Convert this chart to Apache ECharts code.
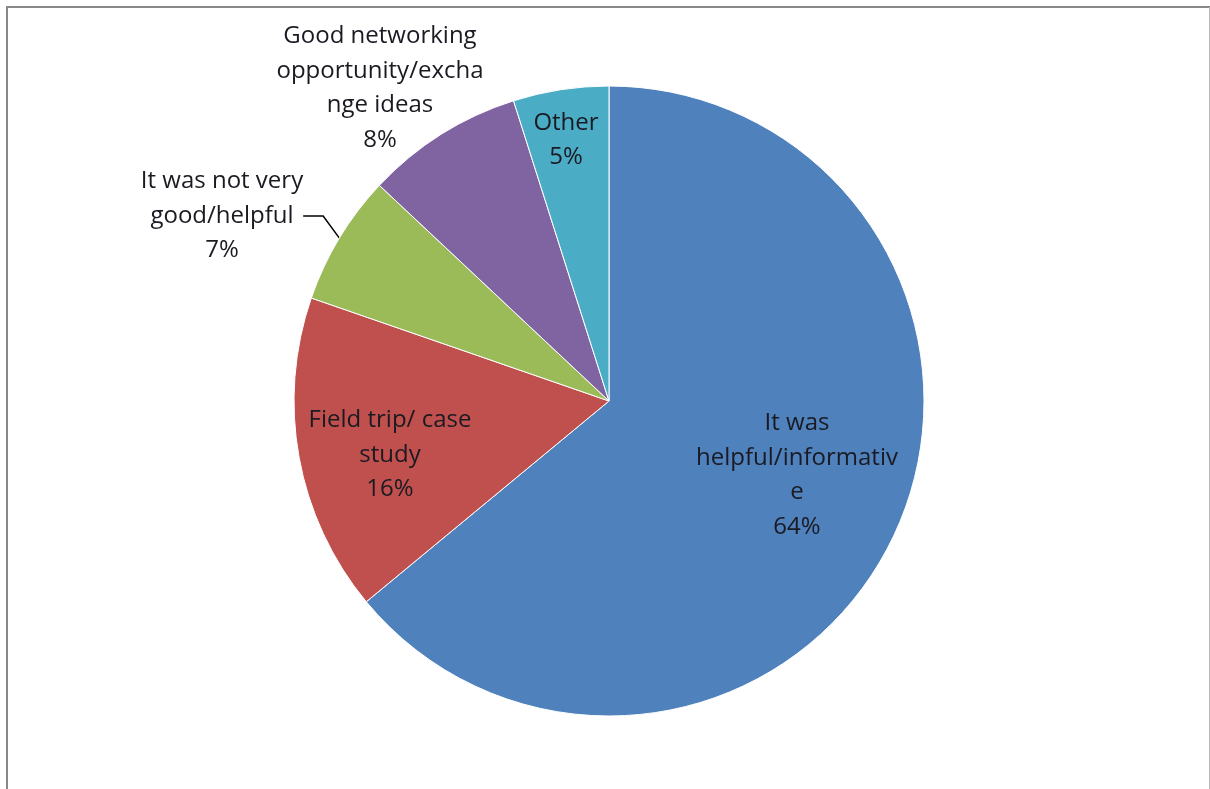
<!DOCTYPE html>
<html>
<head>
<meta charset="utf-8">
<script src="https://cdn.jsdelivr.net/npm/echarts@6/dist/echarts.min.js"></script>
<style>
html,body{margin:0;padding:0;background:#fff;}
#chart{width:1210px;height:789px;}
</style>
</head>
<body>
<div id="chart"></div>
<script>
// Data
const categories = [
  "It was helpful/informative",
  "Field trip/ case study",
  "It was not very good/helpful",
  "Good networking opportunity/exchange ideas",
  "Other"
];
const values = [64, 16.3, 6.7, 8.1, 4.9];
const labelTexts = [
  "It was\nhelpful/informativ\ne",
  "Field trip/ case\nstudy",
  "It was not very\ngood/helpful",
  "Good networking\nopportunity/excha\nnge ideas",
  "Other"
];
const colors = ["#4F81BD", "#C0504D", "#9BBB59", "#8064A2", "#4BACC6"];

const labelPos = [
  {x: 797, y: 475},
  {x: 390, y: 455},
  {x: 222, y: 216},
  {x: 380, y: 88},
  {x: 566, y: 140}
];

const chart = echarts.init(document.getElementById('chart'), null, {renderer: 'canvas'});
chart.setOption({
  backgroundColor: '#fff',
  animation: false,
  graphic: [
    {type: 'line', shape: {x1: 6, y1: 7, x2: 1210, y2: 7}, style: {stroke: '#888', lineWidth: 2}},
    {type: 'line', shape: {x1: 7, y1: 6, x2: 7, y2: 789}, style: {stroke: '#888', lineWidth: 2}},
    {type: 'line', shape: {x1: 1209.5, y1: 7, x2: 1209.5, y2: 789}, style: {stroke: '#bbb', lineWidth: 1}}
  ],
  series: [{
    type: 'pie',
    center: [609, 401],
    radius: 315,
    startAngle: 90,
    clockwise: true,
    percentPrecision: 0,
    avoidLabelOverlap: false,
    itemStyle: {borderColor: '#fff', borderWidth: 1},
    label: {
      show: true,
      position: 'inside',
      fontFamily: 'Open Sans',
      fontSize: 24,
      lineHeight: 34.5,
      color: '#1a1a22',
      align: 'center',
      formatter: p => labelTexts[p.dataIndex] + '\n' + p.percent + '%'
    },
    labelLine: {show: false},
    labelLayout: function (params) {
      const pos = labelPos[params.dataIndex];
      return {x: pos.x, y: pos.y, align: 'center', verticalAlign: 'middle'};
    },
    data: categories.map((name, i) => {
      const d = {name: name, value: values[i], itemStyle: {color: colors[i]}};
      if (i === 2) {
        d.label = {position: 'outside'};
        d.labelLine = {show: true, length: 20, length2: 20, lineStyle: {color: '#000', width: 1.5}};
      }
      if (i === 3) {
        d.label = {position: 'outside'};
        d.labelLine = {show: false};
      }
      return d;
    })
  }]
});
</script>
</body>
</html>
